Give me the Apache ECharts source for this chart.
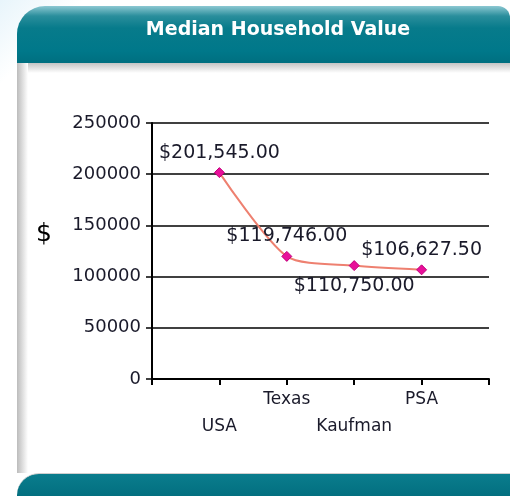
<!DOCTYPE html>
<html lang="en">
<head>
<meta charset="UTF-8">
<title>Median Household Value</title>
<script src="https://cdn.jsdelivr.net/npm/echarts@6/dist/echarts.min.js"></script>
<style>
  html, body { margin:0; padding:0; background:#fff; }
  #wrap { position:relative; width:510px; height:496px; overflow:hidden; background:linear-gradient(135deg,#e8f5fb 0,#fff 60px); }
  #head { position:absolute; left:17px; top:6px; width:493px; height:57px;
          border-radius:28px 12px 0 0;
          background:linear-gradient(to bottom,#8cc8d2 0,#2a8e9c 10px,#077b8b 22px,#00788a 45px,#006f80 57px); }
  #body { position:absolute; left:17px; top:63px; width:493px; height:410px; background:#fff; }
  #shadowTop { position:absolute; left:17px; top:63px; width:493px; height:10px;
          background:linear-gradient(to bottom,#c4c4c4,#fff); }
  #shadowLeft { position:absolute; left:17px; top:63px; width:11px; height:410px;
          background:linear-gradient(to right,#bcbcbc,#fff); }
  #foot { position:absolute; left:17px; top:473px; width:493px; height:30px;
          border-radius:22px 0 0 0;
          background:linear-gradient(to bottom,#0a7d8d,#006a7b); border-top:1px solid #cfcfcf; }
  #main { position:absolute; left:0; top:0; width:510px; height:496px; }
</style>
</head>
<body>
<div id="wrap">
  <div id="head"></div>
  <div id="body"></div>
  <div id="shadowTop"></div>
  <div id="shadowLeft"></div>
  <div id="foot"></div>
  <div id="main"></div>
</div>
<script type="text/javascript">
    // 数据
    var places = ['USA', 'Texas', 'Kaufman', 'PSA'];
    var values = [201545, 119746, 110750, 106627.5];
    var labelPos = ['top', 'top', 'bottom', 'top'];
    var yTicks = [0, 50000, 100000, 150000, 200000, 250000];

    function money(v){
        var s = v.toFixed(2).split('.');
        return '$' + s[0].replace(/\B(?=(\d{3})+(?!\d))/g, ',') + '.' + s[1];
    }

    var myChart = echarts.init(document.getElementById('main'));
    var font = 'DejaVu Sans';

    var option = {
        animation: false,
        title: {
            text: 'Median Household Value',
            left: 278,
            top: 21,
            padding: 0,
            textAlign: 'center',
            textStyle: { color:'#fff', fontFamily:font, fontWeight:'bold', fontSize:19 }
        },
        graphic: [{
            type: 'text', left: 36, top: 222,
            style: { text: '$', fontFamily:font, fontSize:25, fill:'#000' }
        }],
        grid: { left:152, right:21, top:123, bottom:117 },
        xAxis: {
            type: 'value',
            min: 0,
            max: places.length + 1,
            interval: 1,
            axisLine: { lineStyle:{ color:'#000', width:2 } },
            axisTick: { length:6, lineStyle:{ color:'#000', width:2 } },
            splitLine: { show:false },
            axisLabel: {
                margin: 7,
                fontFamily: font,
                fontSize: 17,
                color: '#1a1a2a',
                lineHeight: 27,
                verticalAlign: 'top',
                showMinLabel: true,
                showMaxLabel: true,
                formatter: function(v){
                    var name = places[v - 1];
                    if (!name) return '';
                    return (v % 2 === 1) ? '\n' + name : name;
                }
            }
        },
        yAxis: {
            type: 'value',
            min: yTicks[0],
            max: yTicks[yTicks.length - 1],
            interval: yTicks[1] - yTicks[0],
            axisLine: { show:true, lineStyle:{ color:'#000', width:2 } },
            axisTick: { show:true, length:6, lineStyle:{ color:'#000', width:1.5 } },
            splitLine: { lineStyle:{ color:'#000', width:1.5 } },
            axisLabel: { margin:11, fontFamily:font, fontSize:18, color:'#1a1a2a',
                         formatter: function(v){ return String(v); } }
        },
        series: [{
            type: 'line',
            smooth: 0.25,
            symbol: 'diamond',
            symbolSize: 10,
            lineStyle: { color:'#ee8070', width:2 },
            itemStyle: { color:'#e8109a', borderColor:'#c0007a', borderWidth:1 },
            label: {
                show: true,
                distance: 5,
                fontFamily: font,
                fontSize: 19,
                color: '#1a1a2a',
                formatter: function(p){ return money(p.value[1]); }
            },
            data: values.map(function(v, i){
                return { value:[i + 1, v], label:{ position:labelPos[i] } };
            })
        }]
    };
    myChart.setOption(option);
</script>
</body>
</html>
